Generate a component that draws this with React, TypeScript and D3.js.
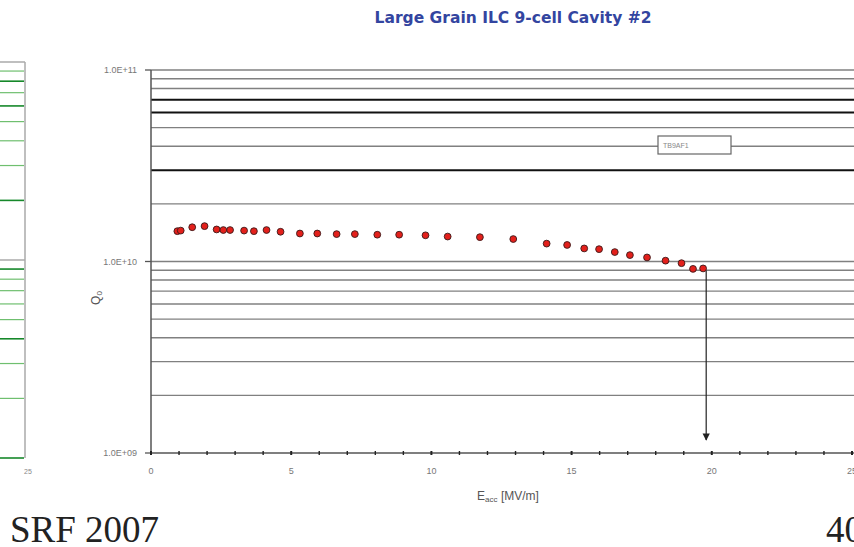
import React from 'react';
import { scaleLinear, scaleLog, range } from 'd3';

// Q0 vs Eacc
const eacc = [0.94, 1.06, 1.47, 1.91, 2.34, 2.58, 2.82, 3.32, 3.67, 4.12, 4.62, 5.31, 5.93, 6.62, 7.27, 8.07,
  8.85, 9.79, 10.58, 11.73, 12.92, 14.11, 14.84, 15.45, 15.98, 16.54, 17.08, 17.69, 18.35, 18.92, 19.33, 19.69];
const q0 = [1.44e10, 1.45e10, 1.51e10, 1.53e10, 1.47e10, 1.46e10, 1.46e10, 1.45e10, 1.44e10, 1.46e10, 1.43e10,
  1.40e10, 1.40e10, 1.39e10, 1.39e10, 1.38e10, 1.38e10, 1.37e10, 1.35e10, 1.34e10, 1.31e10, 1.24e10, 1.22e10,
  1.17e10, 1.16e10, 1.12e10, 1.08e10, 1.05e10, 1.01e10, 9.8e9, 9.15e9, 9.2e9];

const seriesName = 'TB9AF1';
const yTickLabels = ['1.0E+09', '1.0E+10', '1.0E+11'];
const yMajors = [1e9, 1e10, 1e11];
const xTickLabels = ['0', '5', '10', '15', '20', '25'];
const heavyGrid = [7e10, 6e10, 3e10];
const quenchField = 19.8;
const arrowEnd = 1.17e9;

// neighbouring chart cut off at the left edge
const leftDark = [8e10, 6e10, 2e10, 9e9, 4e9, 1e9];
const leftLight = [9e10, 7e10, 5e10, 4e10, 3e10, 8e9, 7e9, 6e9, 5e9, 3e9, 2e9];
const leftGray = [1e11, 1e10];

const W = 854;
const H = 547;

export default function App() {
  const x = scaleLinear().domain([0, 25]).range([151, 852]);
  const y = scaleLog().domain([1e9, 1e11]).range([453, 70]);
  const yLeft = scaleLog().domain([1e9, 1e11]).range([458, 62]);

  const minors = y.ticks().filter(v => v > 1e9);
  const xTicks = range(0, 26);
  const last = q0.length - 1;
  const sans = 'Arial, "Liberation Sans", sans-serif';
  const serif = '"Liberation Serif", "Times New Roman", serif';

  return (
    <svg width={W} height={H} style={{ position: 'absolute', left: 0, top: 0, background: '#fff' }}>
      <defs>
        <marker id="arr" viewBox="0 0 10 10" refX="9" refY="5" markerWidth="6" markerHeight="7" orient="auto">
          <path d="M0,0 L10,5 L0,10 z" fill="#222" />
        </marker>
      </defs>

      {/* left neighbour */}
      <g>
        {leftGray.map(v => (
          <line key={'g' + v} x1={0} x2={25} y1={yLeft(v)} y2={yLeft(v)} stroke="#aaa" strokeWidth={1.5} />
        ))}
        {leftLight.map(v => (
          <line key={'l' + v} x1={0} x2={24} y1={yLeft(v)} y2={yLeft(v)} stroke="#6fbf6f" strokeWidth={1.2} />
        ))}
        {leftDark.map(v => (
          <line key={'d' + v} x1={0} x2={24} y1={yLeft(v)} y2={yLeft(v)} stroke="#16882a" strokeWidth={1.6} />
        ))}
        <line x1={25} x2={25} y1={yLeft(1e11)} y2={yLeft(1e9)} stroke="#aaa" strokeWidth={1.5} />
        <text x={28} y={474} fontSize={7} fontFamily={sans} fill="#888" textAnchor="middle">25</text>
      </g>

      {/* title */}
      <text x={513} y={23} textAnchor="middle" fontFamily='"DejaVu Sans", Verdana, sans-serif' fontWeight="bold"
        fontSize={15.5} fill="#3345a0">
        Large Grain ILC 9-cell Cavity #2
      </text>

      {/* grid */}
      {minors.map(v => {
        const heavy = heavyGrid.includes(v);
        return (
          <line key={v} x1={x(0)} x2={W} y1={y(v)} y2={y(v)}
            stroke={heavy ? '#111' : '#808080'} strokeWidth={heavy ? 2 : 1.4} />
        );
      })}

      {/* y axis */}
      <line x1={x(0)} x2={x(0)} y1={y(1e11)} y2={y(1e9)} stroke="#555" strokeWidth={1.5} />
      {yMajors.map((v, i) => (
        <g key={v}>
          <line x1={x(0) - 6} x2={x(0)} y1={y(v)} y2={y(v)} stroke="#555" strokeWidth={1.3} />
          <text x={137} y={y(v) + 3} textAnchor="end" fontSize={9} fontFamily={sans} fill="#777">
            {yTickLabels[i]}
          </text>
        </g>
      ))}
      <text transform="translate(100,298) rotate(-90)" textAnchor="middle" fontSize={12} fontFamily={sans} fill="#555">
        Q<tspan fontSize={8} dy={2}>0</tspan>
      </text>

      {/* x axis */}
      <line x1={x(0)} x2={W} y1={y(1e9)} y2={y(1e9)} stroke="#555" strokeWidth={1.5} />
      {xTicks.map(t => (
        <line key={t} x1={x(t)} x2={x(t)} y1={y(1e9) - 2} y2={y(1e9) + 2} stroke="#222" strokeWidth={t % 5 === 0 ? 2 : 1.4} />
      ))}
      {xTickLabels.map(l => (
        <text key={l} x={x(+l)} y={474} textAnchor="middle" fontSize={9} fontFamily={sans} fill="#777">{l}</text>
      ))}
      <text x={508} y={500} textAnchor="middle" fontSize={12} fontFamily={sans} fill="#555">
        E<tspan fontSize={8} dy={2}>acc</tspan><tspan dy={-2}> [MV/m]</tspan>
      </text>

      {/* quench arrow */}
      <line x1={x(quenchField)} x2={x(quenchField)} y1={y(q0[last]) + 2} y2={y(arrowEnd)}
        stroke="#222" strokeWidth={1.2} markerEnd="url(#arr)" />

      {/* data */}
      {eacc.map((e, i) => (
        <circle key={i} cx={x(e)} cy={y(q0[i])} r={3.4} fill="#e3201b" stroke="#3a1a1a" strokeWidth={0.9} />
      ))}

      {/* legend */}
      <rect x={658} y={136} width={73} height={18} fill="#fff" stroke="#666" strokeWidth={1.2} />
      <text x={663} y={148} fontSize={7} fontFamily={sans} fill="#888">{seriesName}</text>

      {/* slide footer */}
      <text x={10} y={542} fontSize={37} fontFamily={serif} fill="#222">SRF 2007</text>
      <text x={826} y={542} fontSize={37} fontFamily={serif} fill="#222">40</text>
    </svg>
  );
}
